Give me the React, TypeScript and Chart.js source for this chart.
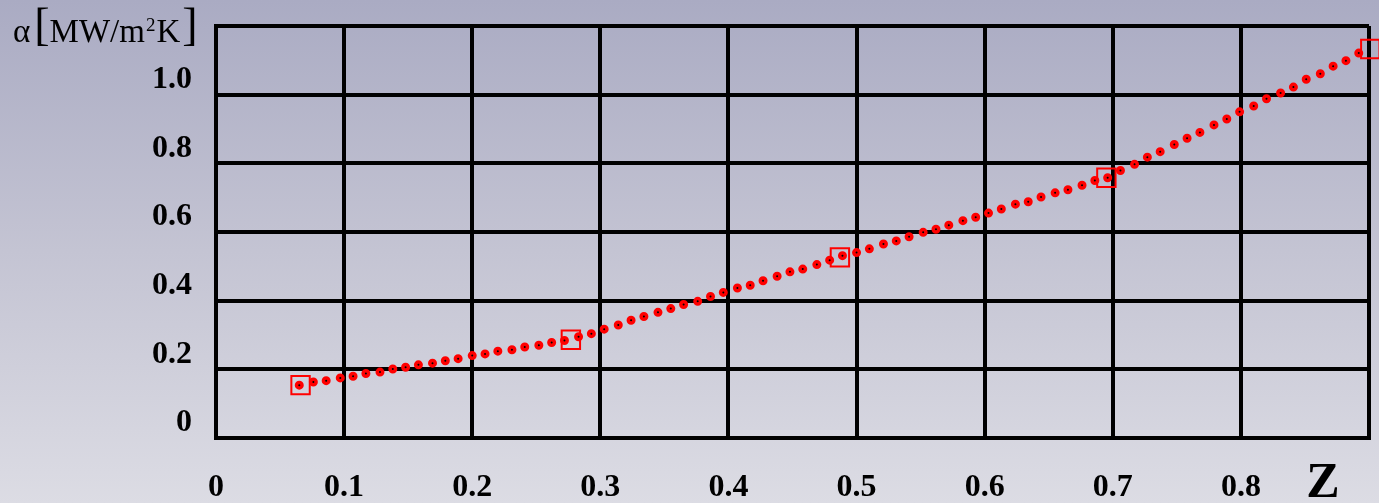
import React, { useEffect, useRef } from "react";
import { Chart, registerables } from "chart.js";

Chart.register(...registerables);

const zValues = [
  0.065, 0.076, 0.086, 0.097, 0.107, 0.117, 0.128, 0.138, 0.148, 0.158,
  0.169, 0.179, 0.189, 0.200, 0.210, 0.220, 0.231, 0.241, 0.252, 0.262,
  0.272, 0.283, 0.293, 0.303, 0.314, 0.324, 0.334, 0.345, 0.355, 0.365,
  0.376, 0.386, 0.396, 0.407, 0.417, 0.427, 0.438, 0.448, 0.458, 0.469,
  0.479, 0.489, 0.500, 0.510, 0.521, 0.531, 0.541, 0.552, 0.562, 0.572,
  0.583, 0.593, 0.603, 0.613, 0.624, 0.634, 0.644, 0.655, 0.665, 0.676,
  0.686, 0.696, 0.706, 0.717, 0.727, 0.737, 0.748, 0.758, 0.768, 0.779,
  0.789, 0.799, 0.810, 0.820, 0.831, 0.841, 0.851, 0.862, 0.872, 0.882,
  0.892,
];

const alphaValues = [
  0.154, 0.163, 0.167, 0.175, 0.180, 0.188, 0.192, 0.201, 0.206, 0.213,
  0.218, 0.225, 0.231, 0.240, 0.245, 0.253, 0.257, 0.265, 0.270, 0.278,
  0.284, 0.295, 0.304, 0.317, 0.329, 0.343, 0.354, 0.366, 0.377, 0.389,
  0.398, 0.412, 0.424, 0.437, 0.445, 0.458, 0.471, 0.484, 0.492, 0.505,
  0.518, 0.531, 0.540, 0.551, 0.565, 0.574, 0.586, 0.599, 0.608, 0.620,
  0.633, 0.643, 0.655, 0.667, 0.681, 0.688, 0.702, 0.714, 0.723, 0.736,
  0.750, 0.758, 0.779, 0.797, 0.818, 0.834, 0.855, 0.873, 0.890, 0.912,
  0.929, 0.950, 0.967, 0.988, 1.005, 1.022, 1.045, 1.061, 1.083, 1.099,
  1.121,
];

const markerZ = [0.066, 0.277, 0.487, 0.695, 0.901];
const markerAlpha = [0.154, 0.286, 0.526, 0.758, 1.133];

const xTicks = [0, 0.1, 0.2, 0.3, 0.4, 0.5, 0.6, 0.7, 0.8, 0.9];
const yTicks = [0, 0.2, 0.4, 0.6, 0.8, 1.0, 1.2];
const xHiddenTick = 0.9;
const yHiddenTick = 1.2;

const SERIF = '"Liberation Serif", "Times New Roman", serif';

const fmt = (v: number) => (Math.abs(v) < 1e-9 ? "0" : v.toFixed(1));

const labelsPlugin = {
  id: "extraLabels",
  afterDraw(chart: any) {
    const ctx = chart.ctx as CanvasRenderingContext2D;
    ctx.save();
    ctx.fillStyle = "#000";
    ctx.textBaseline = "alphabetic";
    ctx.textAlign = "left";
    // y-axis title: α [MW/m²K]
    let x = 13;
    ctx.font = `33px ${SERIF}`;
    ctx.fillText("α", x, 42);
    x += ctx.measureText("α").width + 8;
    ctx.font = `46px ${SERIF}`;
    ctx.fillText("[", x - 4, 40);
    x += ctx.measureText("[").width - 4;
    ctx.font = `33px ${SERIF}`;
    ctx.fillText("MW/m", x, 42);
    x += ctx.measureText("MW/m").width + 1;
    ctx.font = `19px ${SERIF}`;
    ctx.fillText("2", x, 31);
    x += ctx.measureText("2").width + 1;
    ctx.font = `33px ${SERIF}`;
    ctx.fillText("K", x, 42);
    x += ctx.measureText("K").width + 2;
    ctx.font = `46px ${SERIF}`;
    ctx.fillText("]", x, 40);
    // x-axis title Z
    ctx.font = `bold 50px ${SERIF}`;
    ctx.textAlign = "center";
    ctx.fillText("Z", 1323, 497);
    ctx.restore();
  },
};

export default function App() {
  const ref = useRef<HTMLCanvasElement>(null);

  useEffect(() => {
    if (!ref.current) return;
    const chart = new Chart(ref.current, {
      type: "scatter",
      data: {
        datasets: [
          {
            data: zValues.map((z, i) => ({ x: z, y: alphaValues[i] })),
            showLine: false,
            pointStyle: "circle",
            pointRadius: 2.75,
            pointBorderWidth: 3.5,
            pointBackgroundColor: "#000",
            pointBorderColor: "#ff0000",
            clip: false as any,
          },
          {
            data: markerZ.map((z, i) => ({ x: z, y: markerAlpha[i] })),
            showLine: false,
            pointStyle: "rect",
            pointRadius: 13,
            pointBorderWidth: 2,
            pointBackgroundColor: "rgba(0,0,0,0)",
            pointBorderColor: "#ff0000",
            clip: false as any,
          },
        ],
      },
      options: {
        animation: false,
        responsive: false,
        events: [],
        layout: { autoPadding: false, padding: { top: 26, right: 10, left: 0, bottom: 0 } },
        plugins: {
          legend: { display: false },
          tooltip: { enabled: false },
          title: { display: false },
        },
        scales: {
          x: {
            type: "linear",
            min: 0,
            max: 0.9,
            afterBuildTicks: (s: any) => {
              s.ticks = xTicks.map((v) => ({ value: v }));
            },
            afterFit: (s: any) => {
              s.height = 65;
              s.paddingLeft = 0;
              s.paddingRight = 0;
            },
            ticks: {
              autoSkip: false,
              maxRotation: 0,
              padding: 31,
              color: "#000",
              font: { family: SERIF, size: 32, weight: "bold" },
              callback: (v: any) =>
                Math.abs(Number(v) - xHiddenTick) < 1e-6 ? "" : fmt(Number(v)),
            },
            grid: { color: "#000", lineWidth: 4, drawTicks: false },
            border: { color: "#000", width: 4 },
          },
          y: {
            type: "linear",
            min: 0,
            max: 1.2,
            afterBuildTicks: (s: any) => {
              s.ticks = yTicks.map((v) => ({ value: v }));
            },
            afterFit: (s: any) => {
              s.width = 216;
              s.paddingTop = 0;
              s.paddingBottom = 0;
            },
            ticks: {
              autoSkip: false,
              padding: 24,
              labelOffset: -15,
              color: "#000",
              font: { family: SERIF, size: 32, weight: "bold" },
              callback: (v: any) =>
                Math.abs(Number(v) - yHiddenTick) < 1e-6 ? "" : fmt(Number(v)),
            },
            grid: { color: "#000", lineWidth: 4, drawTicks: false },
            border: { color: "#000", width: 4 },
          },
        },
      },
      plugins: [labelsPlugin],
    });
    return () => chart.destroy();
  }, []);

  return (
    <div
      style={{
        position: "fixed",
        left: 0,
        top: 0,
        width: 1379,
        height: 503,
        background: "linear-gradient(to bottom, #aaabc3 0%, #c4c4d3 50%, #dcdce4 100%)",
      }}
    >
      <canvas ref={ref} width={1379} height={503} style={{ display: "block" }} />
    </div>
  );
}
